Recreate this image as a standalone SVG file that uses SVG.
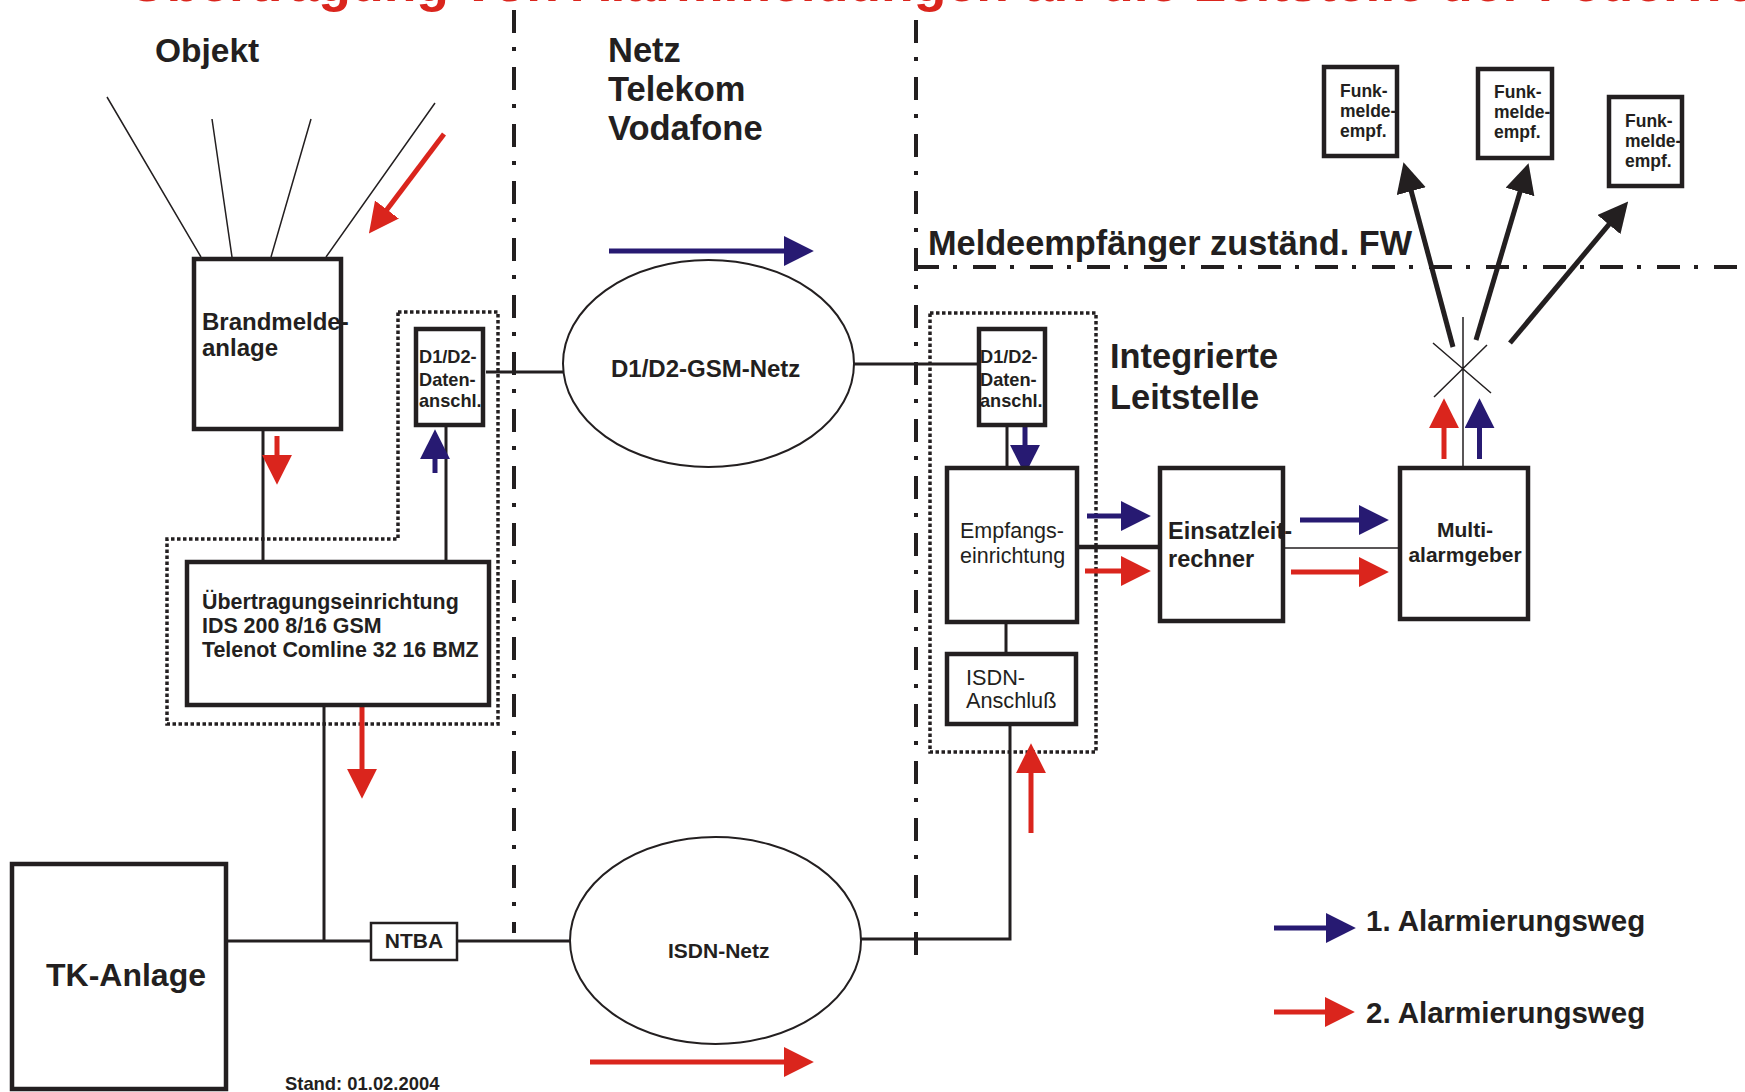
<svg xmlns="http://www.w3.org/2000/svg" width="1745" height="1092" viewBox="0 0 1745 1092">
<style>
text{font-family:"Liberation Sans",Arial,sans-serif;fill:#231f20}
.b{font-weight:bold}
.box{fill:#fff;stroke:#231f20;stroke-width:4.5}
.thin{fill:none;stroke:#231f20;stroke-width:1.5}
.wire{fill:none;stroke:#231f20;stroke-width:3}
.ell{fill:#fff;stroke:#231f20;stroke-width:2}
.dot{fill:none;stroke:#231f20;stroke-width:3.5;stroke-dasharray:3.5 2.5}
.dd{fill:none;stroke:#231f20;stroke-width:4;stroke-dasharray:23 14 4 16}
.ar{stroke:#da251d;stroke-width:5;fill:none;marker-end:url(#mr)}
.ab{stroke:#271a72;stroke-width:5;fill:none;marker-end:url(#mb)}
.ak{stroke:#231f20;stroke-width:5;fill:none;marker-end:url(#mk)}
</style>
<defs>
<marker id="mr" markerUnits="userSpaceOnUse" markerWidth="30" markerHeight="30" viewBox="0 0 28 28" refX="2" refY="14" orient="auto"><path d="M0,0 L28,14 L0,28 Z" fill="#da251d"/></marker>
<marker id="mb" markerUnits="userSpaceOnUse" markerWidth="30" markerHeight="30" viewBox="0 0 28 28" refX="2" refY="14" orient="auto"><path d="M0,0 L28,14 L0,28 Z" fill="#271a72"/></marker>
<marker id="mk" markerUnits="userSpaceOnUse" markerWidth="30" markerHeight="30" viewBox="0 0 28 28" refX="2" refY="14" orient="auto"><path d="M0,0 L28,14 L0,28 Z" fill="#231f20"/></marker>
</defs>
<rect width="1745" height="1092" fill="#fff"/>

<text x="128" y="0.5" class="b" font-size="53.5" style="fill:#da251d">Übertragung von Alarmmeldungen an die Leitstelle der Feuerwehr</text>

<g id="boundaries">
<path class="dd" d="M514 10 V933"/>
<path class="dd" d="M916 20 V960"/>
<path class="dd" d="M916 267 H1745"/>
<path class="dot" d="M398 312 H498 V724 H167 V539 H398 Z"/>
<rect class="dot" x="930" y="313" width="166" height="439"/>
</g>

<g id="labels">
<text x="155" y="62" class="b" font-size="33.5">Objekt</text>
<text class="b" font-size="34.5"><tspan x="608" y="62">Netz</tspan><tspan x="608" y="101">Telekom</tspan><tspan x="608" y="140">Vodafone</tspan></text>
<text x="928" y="255" class="b" font-size="34.3">Meldeempfänger zuständ. FW</text>
<text class="b" font-size="34.4"><tspan x="1110" y="368">Integrierte</tspan><tspan x="1110" y="409">Leitstelle</tspan></text>
<text x="285" y="1090" class="b" font-size="18.4">Stand: 01.02.2004</text>
</g>

<g id="connectors">
<path class="thin" d="M107 97 L201 257 M212 119 L232 257 M311 119 L271 257 M435 103 L326 257"/>
<path class="wire" d="M263 431 V562 M446 427 V562 M486 372 H563 M854 364 H979 M324 707 V941 M228 941 H371 M457 941 H570 M860 939 H1010 V726"/>
<path class="wire" d="M1007 427 V468 M1006 622 V654"/>
<path d="M1079 547 H1160" stroke="#231f20" stroke-width="4.5"/>
<path class="thin" d="M1285 548 H1400 M1463 466 V317 M1433 343 L1491 393 M1487 345 L1434 397"/>
<path class="ar" d="M444 134 L385.7 211.3"/>
<path class="ar" d="M277 436 V457"/>
<path class="ab" d="M435 473 V457"/>
<path class="ar" d="M362 692 V771"/>
<path class="ab" d="M609 251 H786"/>
<path class="ar" d="M590 1062 H786"/>
<path class="ab" d="M1025 427 V447"/>
<path class="ar" d="M1031 833 V771"/>
<path class="ab" d="M1087 516 H1123"/>
<path class="ar" d="M1085 571 H1123"/>
<path class="ab" d="M1300 520 H1361"/>
<path class="ar" d="M1291 572 H1361"/>
<path class="ar" d="M1444 459 V426"/>
<path class="ab" d="M1479.5 459 V426"/>
<path class="ak" d="M1453 347 L1410.7 189.1"/>
<path class="ak" d="M1476 340 L1520.6 189.9"/>
<path class="ak" d="M1510 343 L1610.3 222.9"/>
</g>

<g id="brandmeldeanlage">
<rect class="box" x="194" y="259" width="147" height="170"/>
<text class="b" font-size="24"><tspan x="202" y="330">Brandmelde-</tspan><tspan x="202" y="356">anlage</tspan></text>
</g>

<g id="d1d2-links">
<rect class="box" x="416" y="329" width="67" height="96"/>
<text class="b" font-size="18.2"><tspan x="419" y="363">D1/D2-</tspan><tspan x="419" y="386">Daten-</tspan><tspan x="419" y="407">anschl.</tspan></text>
</g>

<g id="uebertragungseinrichtung">
<rect class="box" x="187" y="562" width="302" height="143"/>
<text class="b" font-size="21.4"><tspan x="202" y="609">Übertragungseinrichtung</tspan><tspan x="202" y="633">IDS 200 8/16 GSM</tspan><tspan x="202" y="657">Telenot Comline 32 16 BMZ</tspan></text>
</g>

<g id="tk-anlage">
<rect class="box" x="12" y="864" width="214" height="225"/>
<text x="46" y="986" class="b" font-size="32">TK-Anlage</text>
</g>

<g id="ntba">
<rect x="371" y="923" width="86" height="37" fill="#fff" stroke="#231f20" stroke-width="2.5"/>
<text x="414" y="948" class="b" font-size="21" text-anchor="middle">NTBA</text>
</g>

<g id="gsm-netz">
<ellipse class="ell" cx="708.5" cy="363.5" rx="145.5" ry="103.5"/>
<text x="611" y="377" class="b" font-size="24">D1/D2-GSM-Netz</text>
</g>

<g id="isdn-netz">
<ellipse class="ell" cx="715.5" cy="940.5" rx="145.5" ry="103.5"/>
<text x="668" y="958" class="b" font-size="21">ISDN-Netz</text>
</g>

<g id="d1d2-rechts">
<rect class="box" x="979" y="329" width="66" height="96"/>
<text class="b" font-size="18.2"><tspan x="980" y="363">D1/D2-</tspan><tspan x="980" y="386">Daten-</tspan><tspan x="980" y="407">anschl.</tspan></text>
</g>

<g id="empfangseinrichtung">
<rect class="box" x="947" y="468" width="130" height="154"/>
<text font-size="21.5"><tspan x="960" y="538">Empfangs-</tspan><tspan x="960" y="563">einrichtung</tspan></text>
</g>

<g id="isdn-anschluss">
<rect class="box" x="947" y="654" width="129" height="70"/>
<text font-size="21.7"><tspan x="966" y="685">ISDN-</tspan><tspan x="966" y="708">Anschluß</tspan></text>
</g>

<g id="einsatzleitrechner">
<rect class="box" x="1160" y="468" width="123" height="153"/>
<text class="b" font-size="23.5"><tspan x="1168" y="539">Einsatzleit-</tspan><tspan x="1168" y="567">rechner</tspan></text>
</g>

<g id="multialarmgeber">
<rect class="box" x="1400" y="468" width="128" height="151"/>
<text class="b" font-size="21" text-anchor="middle"><tspan x="1465" y="537">Multi-</tspan><tspan x="1465" y="562">alarmgeber</tspan></text>
</g>

<g id="funk1">
<rect class="box" x="1324" y="67" width="73" height="89"/>
<text class="b" font-size="17.5"><tspan x="1340" y="97">Funk-</tspan><tspan x="1340" y="117">melde-</tspan><tspan x="1340" y="137">empf.</tspan></text>
</g>
<g id="funk2">
<rect class="box" x="1478" y="69" width="74" height="89"/>
<text class="b" font-size="17.5"><tspan x="1494" y="98">Funk-</tspan><tspan x="1494" y="118">melde-</tspan><tspan x="1494" y="138">empf.</tspan></text>
</g>
<g id="funk3">
<rect class="box" x="1609" y="97" width="73" height="89"/>
<text class="b" font-size="17.5"><tspan x="1625" y="127">Funk-</tspan><tspan x="1625" y="147">melde-</tspan><tspan x="1625" y="167">empf.</tspan></text>
</g>

<g id="legende">
<path class="ab" d="M1274 928 H1328"/>
<path class="ar" d="M1274 1012 H1327"/>
<text class="b" font-size="29.5"><tspan x="1366" y="931">1. Alarmierungsweg</tspan><tspan x="1366" y="1023">2. Alarmierungsweg</tspan></text>
</g>
</svg>
